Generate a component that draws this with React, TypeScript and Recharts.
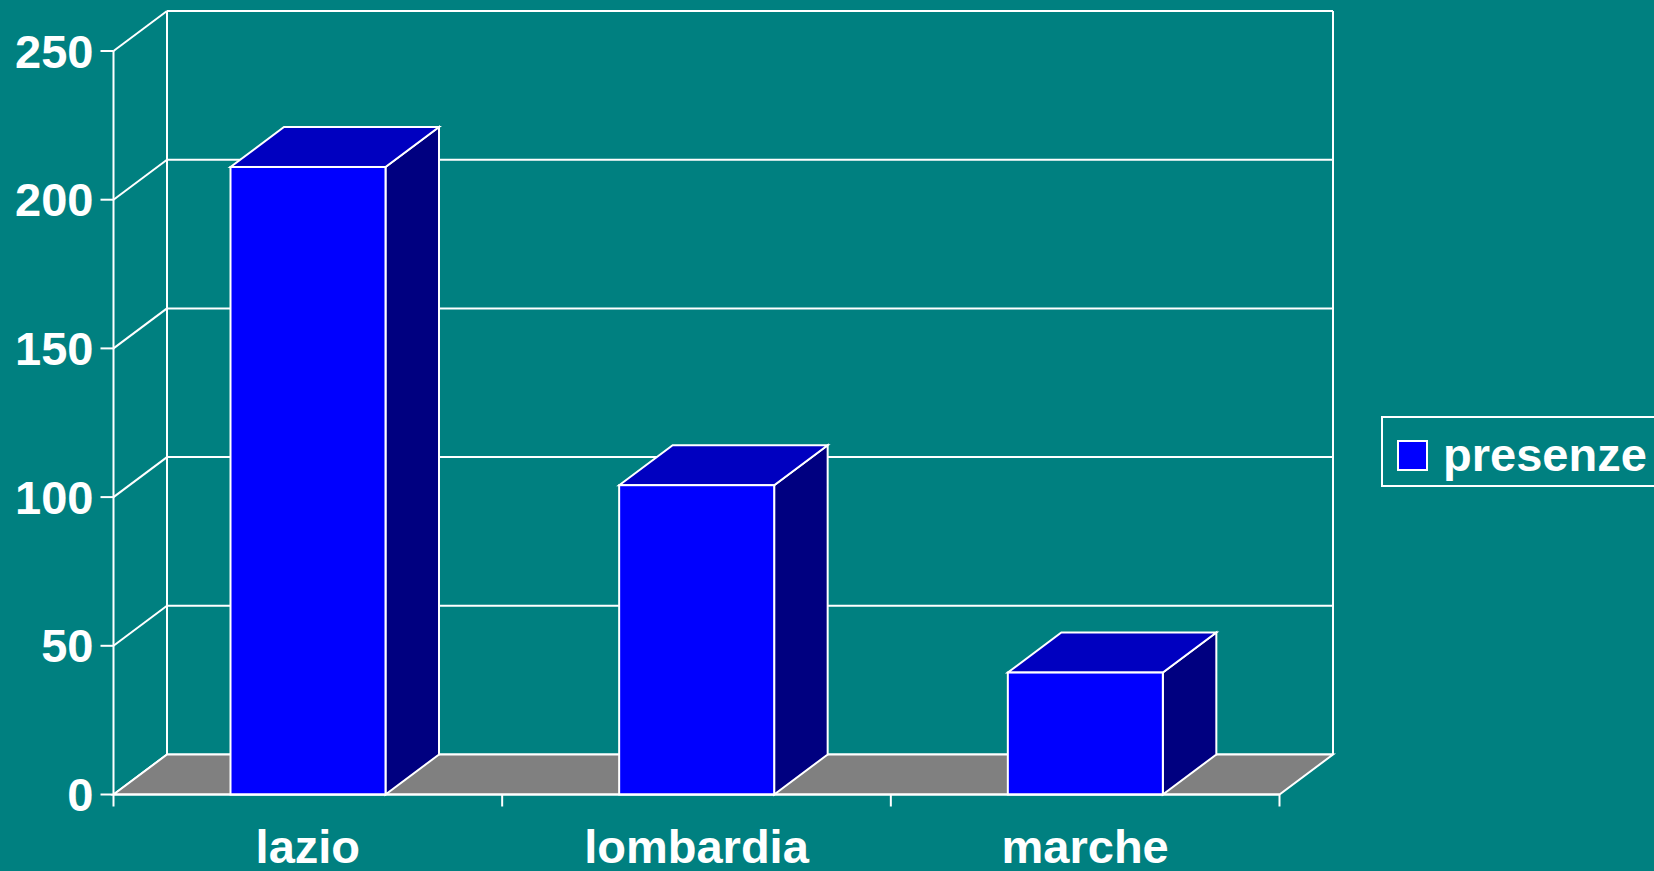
import { BarChart, Bar, XAxis, YAxis, CartesianGrid, ReferenceArea, Legend } from 'recharts';

const regions = ['lazio', 'lombardia', 'marche'];
const presenze = [211, 104, 41];
const yTicks = [0, 50, 100, 150, 200, 250];

const data = regions.map((region, i) => ({ region, presenze: presenze[i] }));

// depth offset of the fake 3d box
const DX = 53.5;
const DY = 40;
const FONT = '"Liberation Sans", Arial, sans-serif';

const BackGridLine = (props: any) => {
  const { x1, x2, y1, index } = props;
  return (
    <g key={`grid-${index}`}>
      <line x1={x1} y1={y1} x2={x1 + DX} y2={y1 - DY} stroke="#fff" strokeWidth={2} />
      <line x1={x1 + DX} y1={y1 - DY} x2={x2 + DX} y2={y1 - DY} stroke="#fff" strokeWidth={2} />
    </g>
  );
};

const Frame = (props: any) => {
  const { x, y, width, height } = props;
  const y0 = y + height;
  const n = regions.length;
  return (
    <g>
      <polygon
        points={`${x},${y0} ${x + DX},${y0 - DY} ${x + width + DX},${y0 - DY} ${x + width},${y0}`}
        fill="#808080"
        stroke="#fff"
        strokeWidth={2}
      />
      <line x1={x + DX} y1={y - DY} x2={x + DX} y2={y0 - DY} stroke="#fff" strokeWidth={2} />
      <line x1={x + width + DX} y1={y - DY} x2={x + width + DX} y2={y0 - DY} stroke="#fff" strokeWidth={2} />
      {Array.from({ length: n + 1 }, (_, i) => (
        <line key={i} x1={x + (i * width) / n} y1={y0} x2={x + (i * width) / n} y2={y0 + 12} stroke="#fff" strokeWidth={2} />
      ))}
    </g>
  );
};

const Bar3D = (props: any) => {
  const { x, y, width, height } = props;
  return (
    <g>
      <polygon
        points={`${x + width},${y} ${x + width + DX},${y - DY} ${x + width + DX},${y + height - DY} ${x + width},${y + height}`}
        fill="#000080"
        stroke="#fff"
        strokeWidth={2}
      />
      <polygon
        points={`${x},${y} ${x + DX},${y - DY} ${x + width + DX},${y - DY} ${x + width},${y}`}
        fill="#0000C0"
        stroke="#fff"
        strokeWidth={2}
      />
      <rect x={x} y={y} width={width} height={height} fill="#0000FF" stroke="#fff" strokeWidth={2} />
    </g>
  );
};

const renderLegend = (props: any) => {
  const item = props.payload?.[0];
  return (
    <div style={{ position: 'relative', width: 300, height: 71, border: '2px solid #fff', boxSizing: 'border-box' }}>
      <div
        style={{
          position: 'absolute', left: 14, top: 22, width: 31, height: 31,
          background: item?.color ?? '#0000FF', border: '2px solid #fff', boxSizing: 'border-box',
        }}
      />
      <span
        style={{
          position: 'absolute', left: 60, top: 13, color: '#fff', fontFamily: FONT,
          fontWeight: 'bold', fontSize: 47, lineHeight: '47px', whiteSpace: 'nowrap',
        }}
      >
        {item?.value ?? 'presenze'}
      </span>
    </div>
  );
};

export default function App() {
  return (
    <div style={{ position: 'absolute', left: 0, top: 0, width: 1654, height: 871, background: '#008080', overflow: 'hidden' }}>
      <BarChart
        width={1654}
        height={871}
        data={data}
        margin={{ top: 51, right: 374.5, bottom: 0, left: 0 }}
        barSize={155}
      >
        <CartesianGrid vertical={false} horizontal={BackGridLine} />
        <XAxis
          dataKey="region"
          height={76.5}
          interval={0}
          tickLine={false}
          tickSize={0}
          tickMargin={35.5}
          axisLine={{ stroke: '#fff', strokeWidth: 2 }}
          tick={{ fill: '#fff', fontSize: 47, fontWeight: 'bold', fontFamily: FONT }}
        />
        <YAxis
          width={113.5}
          domain={[0, 250]}
          ticks={yTicks}
          interval={0}
          tickSize={13}
          tickMargin={7}
          axisLine={{ stroke: '#fff', strokeWidth: 2 }}
          tickLine={{ stroke: '#fff', strokeWidth: 2 }}
          tick={{ fill: '#fff', fontSize: 47, fontWeight: 'bold', fontFamily: FONT }}
        />
        <ReferenceArea y1={0} y2={250} shape={Frame} />
        <Bar dataKey="presenze" name="presenze" fill="#0000FF" shape={Bar3D} isAnimationActive={false} />
        <Legend
          layout="horizontal"
          verticalAlign="middle"
          align="center"
          content={renderLegend}
          wrapperStyle={{ left: 1381, top: 416, width: 300, height: 71 }}
        />
      </BarChart>
    </div>
  );
}
